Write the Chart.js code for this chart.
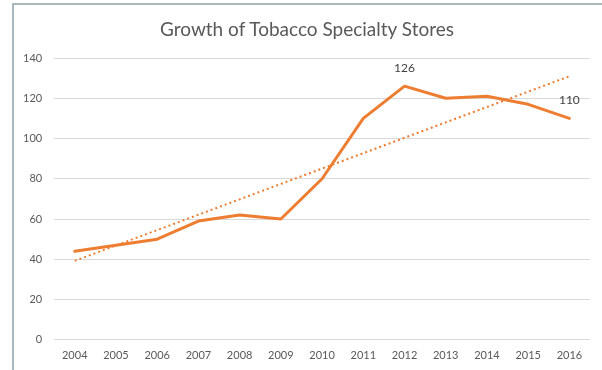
<!DOCTYPE html>
<html>
<head>
<meta charset="utf-8">
<script src="https://cdn.jsdelivr.net/npm/chart.js@4"></script>
<style>
  html, body { margin: 0; padding: 0; background: #ffffff; }
  #wrap { position: relative; width: 602px; height: 370px; overflow: hidden; }
  #frame { position: absolute; left: 12px; top: 3px; width: 600px; height: 400px; border-left: 2px solid #a9b8bd; border-top: 2px solid #a9b8bd; box-sizing: border-box; }
  #c { position: absolute; left: 0; top: 0; }
  #title { position: absolute; left: 107px; width: 400px; top: 17px; height: 23px; line-height: 23px; text-align: center;
           font-family: Lato, 'Open Sans', sans-serif; font-size: 19px; color: #595959; white-space: nowrap; }
</style>
</head>
<body>
<div id="wrap">
  <div id="frame"></div>
  <canvas id="c" width="602" height="370"></canvas>
  <div id="title"></div>
</div>
<script>
const titleText = "Growth of Tobacco Specialty Stores";
const years = ["2004","2005","2006","2007","2008","2009","2010","2011","2012","2013","2014","2015","2016"];
const stores = [44, 47, 50, 59, 62, 60, 80, 110, 126, 120, 121, 117, 110];
const labelledPoints = [8, 12];

document.getElementById('title').textContent = titleText;

// Linear trendline (least squares on the series, as the spreadsheet does)
function linearTrend(vals) {
  const n = vals.length;
  let sx = 0, sy = 0, sxx = 0, sxy = 0;
  vals.forEach((v, i) => { sx += i; sy += v; sxx += i * i; sxy += i * v; });
  const b = (n * sxy - sx * sy) / (n * sxx - sx * sx);
  const a = (sy - b * sx) / n;
  return vals.map((_, i) => a + b * i);
}
const trend = linearTrend(stores);

const FONT = "Lato, 'Open Sans', sans-serif";
const GREY = "#595959";
const ORANGE = "#ED7D31";

const labelPlugin = {
  id: 'pointLabels',
  afterDatasetsDraw(chart) {
    const ctx = chart.ctx;
    const meta = chart.getDatasetMeta(0);
    ctx.save();
    ctx.font = "12px " + FONT;
    ctx.fillStyle = "#404040";
    ctx.textAlign = "center";
    ctx.textBaseline = "middle";
    labelledPoints.forEach(i => {
      const p = meta.data[i];
      ctx.fillText(String(stores[i]), p.x, p.y - 18);
    });
    ctx.restore();
  }
};

new Chart(document.getElementById('c'), {
  type: 'line',
  data: {
    labels: years,
    datasets: [
      {
        data: stores,
        borderColor: ORANGE,
        borderWidth: 3,
        pointRadius: 0,
        tension: 0,
        borderCapStyle: 'round',
        borderJoinStyle: 'round',
        order: 1
      },
      {
        data: trend,
        borderColor: ORANGE,
        borderWidth: 2,
        borderDash: [2, 3],
        pointRadius: 0,
        tension: 0,
        order: 2
      }
    ]
  },
  options: {
    responsive: false,
    animation: false,
    devicePixelRatio: 1,
    layout: { padding: { left: 11, right: 12, top: 58, bottom: -1 } },
    plugins: {
      legend: { display: false },
      tooltip: { enabled: false },
      title: { display: false }
    },
    scales: {
      x: {
        offset: true,
        grid: { display: false, drawTicks: false },
        border: { display: false },
        ticks: { color: GREY, font: { family: FONT, size: 11 }, padding: 9, maxRotation: 0 }
      },
      y: {
        min: 0, max: 140,
        grid: { color: "#d9d9d9", lineWidth: 1, drawTicks: false },
        border: { display: false },
        ticks: { stepSize: 20, color: GREY, font: { family: FONT, size: 11 }, padding: 12 }
      }
    }
  },
  plugins: [labelPlugin]
});
</script>
</body>
</html>
